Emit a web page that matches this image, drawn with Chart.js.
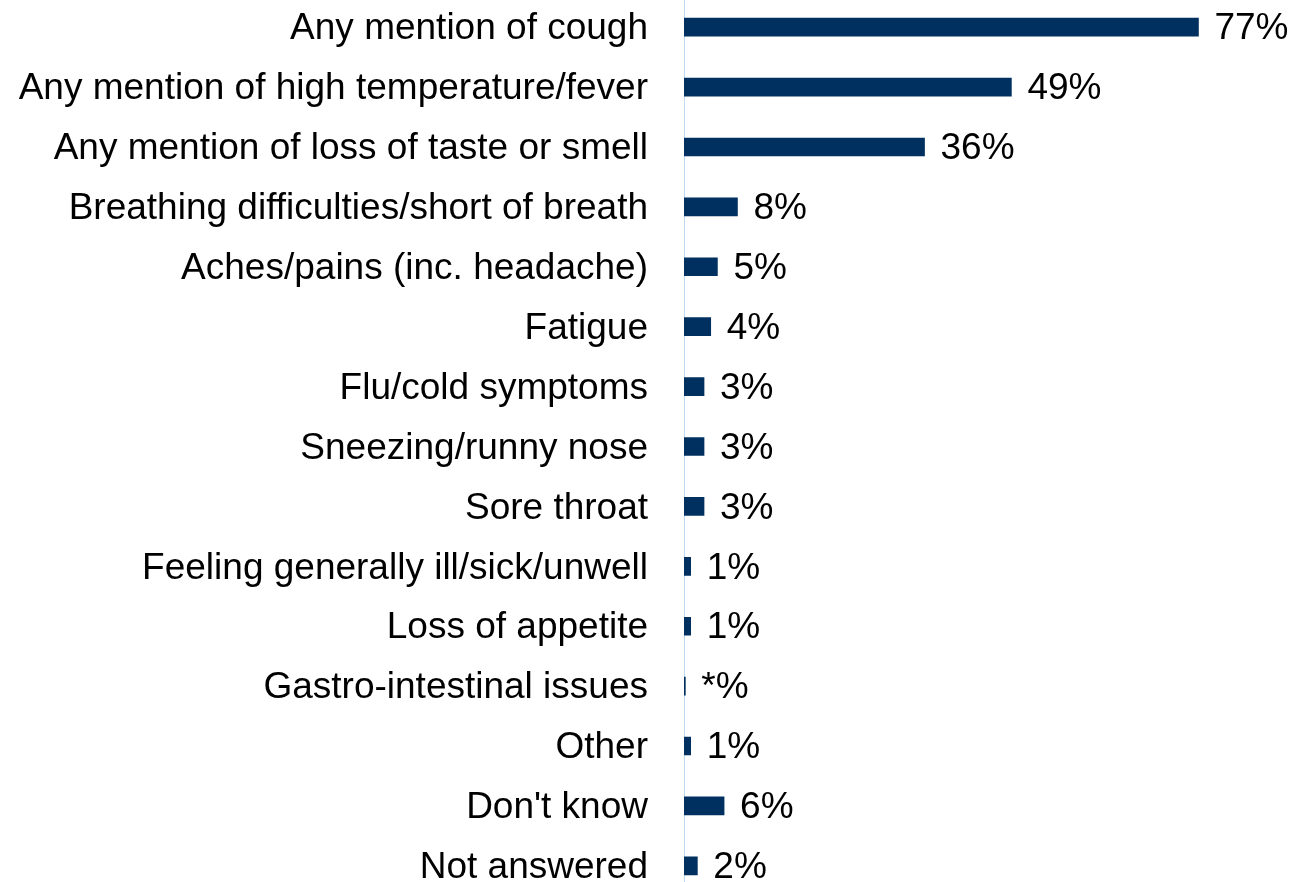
<!DOCTYPE html>
<html>
<head>
<meta charset="utf-8">
<script src="https://cdn.jsdelivr.net/npm/chart.js@4/dist/chart.umd.min.js"></script>
<style>
  html, body { margin: 0; padding: 0; background: #fff; overflow: hidden; }
  #symptoms { position: absolute; left: 0; top: -61px; }
</style>
</head>
<body>
<canvas id="symptoms" width="1294" height="1015"></canvas>
<script>
// Data definitions
const symptomLabels = [
  'Any mention of cough',
  'Any mention of high temperature/fever',
  'Any mention of loss of taste or smell',
  'Breathing difficulties/short of breath',
  'Aches/pains (inc. headache)',
  'Fatigue',
  'Flu/cold symptoms',
  'Sneezing/runny nose',
  'Sore throat',
  'Feeling generally ill/sick/unwell',
  'Loss of appetite',
  'Gastro-intestinal issues',
  'Other',
  "Don't know",
  'Not answered'
];
const symptomValues = [77, 49, 36, 8, 5, 4, 3, 3, 3, 1, 1, 0.2, 1, 6, 2];
const symptomValueText = ['77%', '49%', '36%', '8%', '5%', '4%', '3%', '3%', '3%', '1%', '1%', '*%', '1%', '6%', '2%'];

const fontFamily = '"Liberation Sans", Arial, sans-serif';

// draws the % text at the end of each bar
const valueTextPlugin = {
  id: 'valueText',
  afterDatasetsDraw(chart) {
    const ctx = chart.ctx;
    const meta = chart.getDatasetMeta(0);
    ctx.save();
    ctx.font = '37px ' + fontFamily;
    ctx.fillStyle = '#000';
    ctx.textAlign = 'left';
    ctx.textBaseline = 'middle';
    meta.data.forEach((bar, i) => {
      ctx.fillText(symptomValueText[i], bar.x + 16, bar.y + 2);
    });
    ctx.restore();
  }
};

const chartSymptoms = new Chart(document.getElementById('symptoms').getContext('2d'), {
  type: 'bar',
  data: {
    labels: symptomLabels,
    datasets: [{
      data: symptomValues,
      backgroundColor: '#003060',
      barThickness: 18
    }]
  },
  options: {
    indexAxis: 'y',
    responsive: false,
    animation: false,
    layout: { padding: 0 },
    plugins: {
      legend: { display: false },
      tooltip: { enabled: false }
    },
    scales: {
      x: {
        display: false,
        min: 0,
        max: 91.3
      },
      y: {
        afterFit(scale) { scale.width = 684; },
        grid: { display: false, drawTicks: false },
        border: { display: true, color: '#c0d8f2', width: 1 },
        ticks: {
          padding: 36,
          labelOffset: 2,
          color: '#000',
          font: { family: fontFamily, size: 37 }
        }
      }
    }
  },
  plugins: [valueTextPlugin]
});
</script>
</body>
</html>
